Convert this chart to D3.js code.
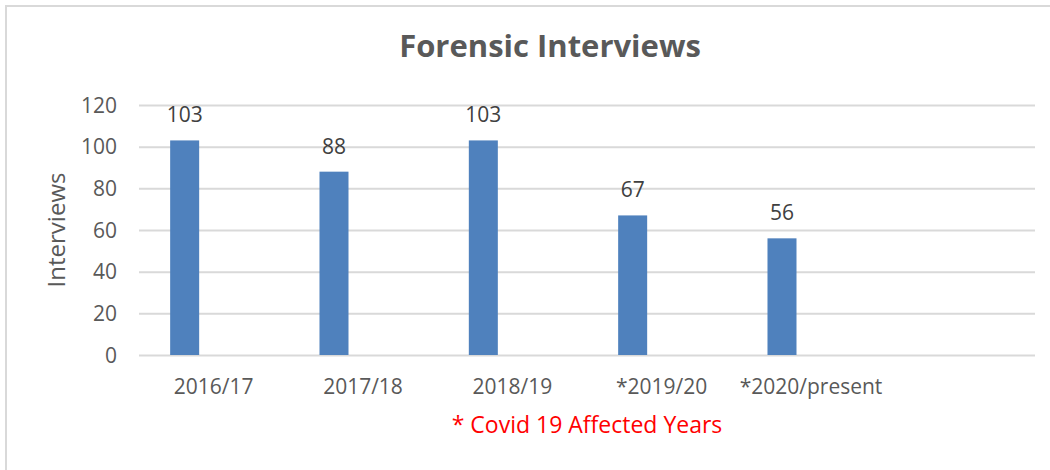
<!DOCTYPE html>
<html lang="en">
<head>
<meta charset="utf-8">
<title>Forensic Interviews</title>
<script src="https://d3js.org/d3.v7.min.js"></script>
<style>
body {
  margin: 0;
  background: #fff;
}
svg text {
  font-family: "Open Sans", sans-serif;
  fill: #595959;
}
.grid line {
  stroke: #d9d9d9;
  stroke-width: 2;
}
.grid path {
  display: none;
}
</style>
</head>
<body>
<svg width="1050" height="470"></svg>
<script>
// chart data
var categories = ["2016/17", "2017/18", "2018/19", "*2019/20", "*2020/present", ""];
var interviews = [103, 88, 103, 67, 56, null];
var yTicks = [0, 20, 40, 60, 80, 100, 120];
var series = ["Interviews", "blank"];

var svg = d3.select("svg"),
    plotLeft = 139, plotRight = 1035,
    plotTop = 105, plotBottom = 355;

// outer frame (only top/left visible in the original)
svg.append("path")
   .attr("d", "M6,470 V6 H1050")
   .attr("fill", "none")
   .attr("stroke", "#d9d9d9")
   .attr("stroke-width", 2);

var x = d3.scaleBand().domain(categories).range([plotLeft, plotRight]).padding(0);
var xInner = d3.scaleBand().domain(series).range([0, x.bandwidth()])
               .paddingInner(0.5).paddingOuter(0.537);
var y = d3.scaleLinear().domain([0, 120]).range([plotBottom, plotTop]);

// gridlines
svg.append("g")
   .attr("class", "grid")
   .attr("transform", "translate(" + plotLeft + ",0)")
   .call(d3.axisLeft(y).tickValues(yTicks).tickSize(-(plotRight - plotLeft)).tickFormat(""));

// y tick labels
svg.append("g")
   .selectAll("text")
   .data(yTicks)
   .enter().append("text")
   .attr("x", 117)
   .attr("y", function(d) { return y(d); })
   .attr("dy", "0.36em")
   .attr("text-anchor", "end")
   .attr("font-size", "21px")
   .text(function(d) { return d; });

// bars
var data = categories.map(function(c, i) { return {cat: c, val: interviews[i]}; })
                     .filter(function(d) { return d.val != null; });

svg.append("g")
   .selectAll("rect")
   .data(data)
   .enter().append("rect")
   .attr("x", function(d) { return x(d.cat) + xInner("Interviews"); })
   .attr("y", function(d) { return y(d.val); })
   .attr("width", xInner.bandwidth())
   .attr("height", function(d) { return y(0) - y(d.val); })
   .attr("fill", "#4f81bd");

// value labels
svg.append("g")
   .selectAll("text")
   .data(data)
   .enter().append("text")
   .attr("x", function(d) { return x(d.cat) + xInner("Interviews") + xInner.bandwidth() / 2; })
   .attr("y", function(d) { return y(d.val) - 18; })
   .attr("text-anchor", "middle")
   .attr("font-size", "21px")
   .style("fill", "#404040")
   .text(function(d) { return d.val; });

// category labels
svg.append("g")
   .selectAll("text")
   .data(categories)
   .enter().append("text")
   .attr("x", function(d) { return x(d) + x.bandwidth() / 2; })
   .attr("y", 394)
   .attr("text-anchor", "middle")
   .attr("font-size", "21px")
   .text(function(d) { return d; });

// axis title
svg.append("text")
   .attr("transform", "translate(65,230) rotate(-90)")
   .attr("text-anchor", "middle")
   .attr("font-size", "24px")
   .text("Interviews");

// chart title
svg.append("text")
   .attr("x", 550)
   .attr("y", 57)
   .attr("text-anchor", "middle")
   .attr("font-size", "31px")
   .attr("font-weight", "bold")
   .text("Forensic Interviews");

// footnote
svg.append("text")
   .attr("x", 587)
   .attr("y", 433)
   .attr("text-anchor", "middle")
   .attr("font-size", "23px")
   .style("fill", "#ff0000")
   .text("* Covid 19 Affected Years");
</script>
</body>
</html>
